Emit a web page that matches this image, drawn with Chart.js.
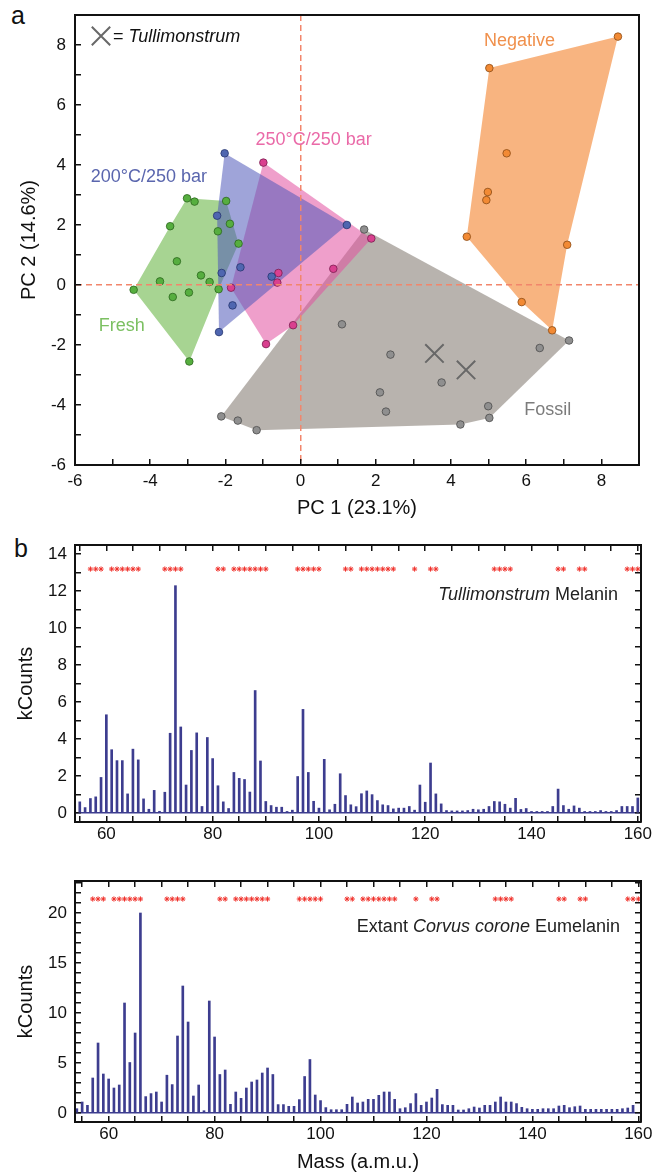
<!DOCTYPE html>
<html>
<head>
<meta charset="utf-8">
<script src="https://cdn.jsdelivr.net/npm/chart.js@4.4.1/dist/chart.umd.min.js"></script>
<style>
html,body{margin:0;padding:0;background:#fff;}
body{width:654px;height:1175px;position:relative;overflow:hidden;font-family:'Liberation Sans',Arial,sans-serif;}
.box{position:absolute;left:0;}
.letter{position:absolute;font-size:25px;line-height:25px;color:#111;}
</style>
</head>
<body>
<div class="letter" style="left:11px;top:3px">a</div>
<div class="letter" style="left:14px;top:536px">b</div>
<div class="box" style="top:0;width:654px;height:525px"><canvas id="ca" width="654" height="525"></canvas></div>
<div class="box" style="top:525px;width:654px;height:330px"><canvas id="cb1" width="654" height="330"></canvas></div>
<div class="box" style="top:860px;width:654px;height:315px"><canvas id="cb2" width="654" height="315"></canvas></div>
<script>
// ---------------- Panel a : PCA scores ----------------
const freshX = [-3.02,-2.82,-1.98,-3.47,-2.20,-1.88,-1.65,-3.29,-2.65,-3.74,-2.42,-4.44,-3.40,-2.97,-2.18,-2.96];
const freshY = [2.89,2.78,2.80,1.96,1.79,2.04,1.38,0.79,0.32,0.12,0.10,-0.16,-0.40,-0.25,-0.14,-2.55];
const freshHull = [0,2,6,14,15,11,3];

const t200X = [-2.02,1.23,-2.22,-2.10,-1.60,-0.77,-1.81,-2.17];
const t200Y = [4.39,2.00,2.31,0.40,0.59,0.28,-0.68,-1.57];
const t200Hull = [0,1,7,2];

const t250X = [-0.99,1.88,0.87,-0.59,-0.62,-1.85,-0.20,-0.92];
const t250Y = [4.08,1.55,0.54,0.40,0.08,-0.09,-1.34,-1.97];
const t250Hull = [0,1,6,7,5];

const fossilX = [1.69,1.10,2.39,3.75,2.11,2.27,4.99,5.02,4.25,6.36,7.14,-2.11,-1.67,-1.17];
const fossilY = [1.85,-1.31,-2.32,-3.25,-3.58,-4.22,-4.04,-4.43,-4.65,-2.10,-1.85,-4.38,-4.52,-4.84];
const fossilHull = [0,10,7,8,13,11];

const negX = [8.44,5.02,5.48,4.98,4.94,4.42,7.09,5.88,6.69];
const negY = [8.28,7.23,4.39,3.10,2.83,1.61,1.34,-0.57,-1.51];
const negHull = [0,1,5,7,8,6];

const tulliX = [3.56,4.40];
const tulliY = [-2.28,-2.83];

const pcTickLabels = [-6,-4,-2,0,2,4,6,8];

// ---------------- Panel b : ToF-SIMS spectra ----------------
const massB1 = [55,56,57,58,59,60,61,62,63,64,65,66,67,68,69,70,71,72,73,74,75,76,77,78,79,80,81,82,83,84,85,86,87,88,89,90,91,92,93,94,95,96,97,98,99,100,101,102,103,104,105,106,107,108,109,110,111,112,113,114,115,116,117,118,119,120,121,122,123,124,125,126,127,128,129,130,131,132,133,134,135,136,137,138,139,140,141,142,143,144,145,146,147,148,149,150,151,152,153,154,155,156,157,158,159,160];
const countsB1 = [0.61,0.30,0.79,0.88,1.93,5.32,3.43,2.84,2.84,1.04,3.46,2.88,0.77,0.21,1.23,0.10,1.13,4.32,12.3,4.66,1.52,3.39,4.34,0.36,4.09,2.95,1.48,0.61,0.25,2.20,1.88,1.82,1.14,6.63,2.82,0.63,0.41,0.32,0.32,0.09,0.16,1.98,5.61,2.20,0.64,0.27,2.91,0.18,0.48,2.13,0.95,0.45,0.35,1.05,1.20,1.00,0.68,0.45,0.41,0.23,0.27,0.27,0.36,0.16,1.52,0.59,2.71,1.04,0.50,0.14,0.12,0.12,0.12,0.14,0.21,0.18,0.21,0.36,0.63,0.61,0.48,0.27,0.80,0.20,0.25,0.09,0.09,0.09,0.09,0.36,1.30,0.41,0.21,0.39,0.27,0.09,0.09,0.09,0.14,0.09,0.09,0.14,0.36,0.36,0.36,0.82];

const massB2 = [54,55,56,57,58,59,60,61,62,63,64,65,66,67,68,69,70,71,72,73,74,75,76,77,78,79,80,81,82,83,84,85,86,87,88,89,90,91,92,93,94,95,96,97,98,99,100,101,102,103,104,105,106,107,108,109,110,111,112,113,114,115,116,117,118,119,120,121,122,123,124,125,126,127,128,129,130,131,132,133,134,135,136,137,138,139,140,141,142,143,144,145,146,147,148,149,150,151,152,153,154,155,156,157,158,159];
const countsB2 = [0.43,1.10,0.77,3.50,7.00,3.90,3.40,2.50,2.80,11.0,5.05,8.00,20.0,1.64,1.94,2.10,1.10,3.78,2.84,7.70,12.7,9.10,1.70,2.80,0.23,11.2,7.60,3.85,4.30,0.87,2.10,1.47,2.50,3.10,3.30,4.00,4.50,3.85,0.84,0.84,0.67,0.67,1.34,3.65,5.35,1.80,1.24,0.54,0.33,0.33,0.33,0.87,1.60,1.00,1.10,1.37,1.37,1.77,2.10,2.10,1.37,0.43,0.53,0.94,1.94,0.77,1.10,1.50,2.37,0.84,0.77,0.77,0.30,0.30,0.43,0.60,0.50,0.77,0.77,1.10,1.60,1.10,1.10,0.94,0.57,0.43,0.37,0.37,0.43,0.43,0.43,0.70,0.77,0.53,0.63,0.70,0.37,0.37,0.37,0.37,0.37,0.37,0.37,0.43,0.50,0.77];

const markedMasses = [57,58,59,61,62,63,64,65,66,71,72,73,74,81,82,84,85,86,87,88,89,90,96,97,98,99,100,105,106,108,109,110,111,112,113,114,118,121,122,133,134,135,136,145,146,149,150,158,159,160];
const markLevelB1 = 13.2;
const markLevelB2 = 21.4;

const massTickLabels = [60,80,100,120,140,160];
const kcTickLabelsB1 = [0,2,4,6,8,10,12,14];
const kcTickLabelsB2 = [0,5,10,15,20];

// ---------------- helpers ----------------
const FONT = "'Liberation Sans', Arial, Helvetica, sans-serif";
Chart.defaults.font.family = FONT;
Chart.defaults.color = '#111';
Chart.defaults.animation = false;

function toPts(xs, ys) { return xs.map((x, i) => ({x: x, y: ys[i]})); }
function toHull(xs, ys, idx) { return idx.map(i => ({x: xs[i], y: ys[i]})); }

function textPlugin(items, extra) {
  return {
    id: 'panelText',
    afterDraw(chart) {
      const ctx = chart.ctx;
      items.forEach(it => {
        let x = it.x, y = it.y;
        if (it.data) {
          x = chart.scales.x.getPixelForValue(it.x);
          y = chart.scales.y.getPixelForValue(it.y);
        }
        ctx.save();
        ctx.fillStyle = it.color;
        ctx.textBaseline = 'middle';
        ctx.textAlign = 'left';
        const fonts = it.runs.map(r => (r.italic ? 'italic ' : '') + it.size + 'px ' + FONT);
        const widths = it.runs.map((r, i) => { ctx.font = fonts[i]; return ctx.measureText(r.t).width; });
        const total = widths.reduce((a, b) => a + b, 0);
        let cx = it.align === 'right' ? x - total : (it.align === 'center' ? x - total / 2 : x);
        it.runs.forEach((r, i) => { ctx.font = fonts[i]; ctx.fillText(r.t, cx, y); cx += widths[i]; });
        ctx.restore();
      });
      if (extra) extra(chart);
    }
  };
}

function frameAxis(pos, min, max, size) {
  const horiz = pos === 'top' || pos === 'bottom';
  return {
    type: 'linear', position: pos, min: min, max: max, offset: false,
    afterFit: s => { if (horiz) { s.height = size; } else { s.width = size; } s.paddingLeft = 0; s.paddingRight = 0; s.paddingTop = 0; s.paddingBottom = 0; },
    border: {display: true, color: '#111', width: 2, z: 2},
    grid: {display: false},
    ticks: {display: false}
  };
}

function tickedAxis(o) {
  const horiz = o.pos === 'top' || o.pos === 'bottom';
  const ax = {
    type: 'linear', position: o.pos, min: o.min, max: o.max, offset: false,
    afterFit: s => { if (horiz) { s.height = o.size; } else { s.width = o.size; } s.paddingLeft = 0; s.paddingRight = 0; s.paddingTop = 0; s.paddingBottom = 0; },
    border: {display: true, color: '#111', width: 2, z: 2, dash: o.dash || []},
    grid: {
      display: true, offset: false, drawOnChartArea: !!o.lineAt0, drawTicks: true,
      tickLength: -6, tickColor: '#111', tickWidth: 1.5, lineWidth: 1.5,
      color: c => (o.lineAt0 && c.tick && c.tick.value === 0) ? o.lineAt0 : 'rgba(0,0,0,0)',
      z: o.gridZ || 0
    },
    ticks: {
      display: !!o.labels, stepSize: o.step, autoSkip: false, includeBounds: false,
      maxRotation: 0, minRotation: 0, padding: o.pad || 10,
      font: {size: 17}, color: '#111',
      callback: v => (o.labels && o.labels.includes(v)) ? String(v) : ''
    }
  };
  if (o.title) ax.title = {display: true, text: o.title, color: '#111', font: {size: 20}, padding: o.titlePad};
  return ax;
}

// ---------------- Chart a ----------------
const groupsA = [
  {xs: fossilX, ys: fossilY, hull: fossilHull, fill: 'rgba(140,132,125,0.62)', pt: '#8f8f8f', ptB: '#4a4a4a'},
  {xs: freshX, ys: freshY, hull: freshHull, fill: 'rgba(108,184,74,0.6)', pt: '#56ae3f', ptB: '#2b661d'},
  {xs: negX, ys: negY, hull: negHull, fill: 'rgba(245,140,60,0.65)', pt: '#f28a34', ptB: '#8a4a14'},
  {xs: t250X, ys: t250Y, hull: t250Hull, fill: 'rgba(225,80,160,0.55)', pt: '#d9408f', ptB: '#7a1d4f'},
  {xs: t200X, ys: t200Y, hull: t200Hull, fill: 'rgba(80,90,185,0.55)', pt: '#4f66b0', ptB: '#26356e'}
];
const dsA = [];
groupsA.forEach((g, i) => {
  dsA.push({
    type: 'line', data: toHull(g.xs, g.ys, g.hull), fill: 'shape',
    backgroundColor: g.fill, borderColor: 'rgba(0,0,0,0)', borderWidth: 0,
    pointRadius: 0, pointHoverRadius: 0, tension: 0, order: 20 - i
  });
  dsA.push({
    type: 'scatter', data: toPts(g.xs, g.ys), backgroundColor: g.pt, borderColor: g.ptB,
    borderWidth: 0.8, pointRadius: 3.8, pointHoverRadius: 3.8, order: 10 - i
  });
});
dsA.push({
  type: 'scatter', data: toPts(tulliX, tulliY), pointStyle: 'crossRot', pointRadius: 13, pointHoverRadius: 13,
  borderColor: '#686868', backgroundColor: '#686868', borderWidth: 2, order: 0
});

const labelsA = [
  {data: true, x: 5.82, y: 8.14, align: 'center', size: 18, color: '#f0904c', runs: [{t: 'Negative'}]},
  {data: true, x: -1.20, y: 4.84, align: 'left', size: 18, color: '#ea6aa8', runs: [{t: '250°C/250 bar'}]},
  {data: true, x: -5.58, y: 3.59, align: 'left', size: 18, color: '#5a66ae', runs: [{t: '200°C/250 bar'}]},
  {data: true, x: -5.37, y: -1.37, align: 'left', size: 18, color: '#7cc062', runs: [{t: 'Fresh'}]},
  {data: true, x: 6.57, y: -4.18, align: 'center', size: 18, color: '#7c7c7c', runs: [{t: 'Fossil'}]},
  {data: false, x: 113, y: 37, align: 'left', size: 18, color: '#111', runs: [{t: '= '}, {t: 'Tullimonstrum', italic: true}]}
];
function drawLegendCross(chart) {
  const ctx = chart.ctx;
  ctx.save();
  ctx.strokeStyle = '#686868';
  ctx.lineWidth = 2;
  Chart.helpers.drawPoint(ctx, {pointStyle: 'crossRot', radius: 13, borderWidth: 2}, 101, 36);
  ctx.restore();
}

new Chart(document.getElementById('ca'), {
  type: 'scatter',
  data: {datasets: dsA},
  options: {
    responsive: false, animation: false, events: [],
    layout: {padding: 0},
    plugins: {legend: {display: false}, tooltip: {enabled: false}},
    scales: {
      x: tickedAxis({pos: 'bottom', min: -6, max: 9, size: 60, step: 1, labels: pcTickLabels, pad: 12,
        lineAt0: '#f2866c', dash: [6, 4], gridZ: 1, title: 'PC 1 (23.1%)', titlePad: {top: 0, bottom: 5}}),
      y: tickedAxis({pos: 'left', min: -6, max: 9, size: 75, step: 1, labels: pcTickLabels, pad: 15,
        lineAt0: '#f2866c', dash: [6, 4], gridZ: 1, title: 'PC 2 (14.6%)', titlePad: {top: 17, bottom: 0}}),
      x2: frameAxis('top', -6, 9, 6),
      y2: frameAxis('right', -6, 9, 13)
    }
  },
  plugins: [textPlugin(labelsA, drawLegendCross)]
});

// ---------------- Charts b ----------------
function spectrumChart(id, masses, counts, markLevel, xr, yr, yLabels, sizes, textItems, xTitle) {
  const bars = masses.map((m, i) => ({x: m, y: counts[i]}));
  const marks = markedMasses.map(m => ({x: m, y: markLevel}));
  const xAx = tickedAxis({pos: 'bottom', min: xr[0], max: xr[1], size: sizes.bottom, step: 5, labels: massTickLabels, pad: 8,
    title: xTitle, titlePad: {top: 0, bottom: 1}});
  return new Chart(document.getElementById(id), {
    type: 'bar',
    data: {datasets: [
      {type: 'scatter', data: marks, pointStyle: 'star', pointRadius: 2.6, pointHoverRadius: 2.6,
       borderColor: '#f0302a', backgroundColor: '#f0302a', borderWidth: 1, order: 0},
      {type: 'bar', data: bars, backgroundColor: '#3d3d8f', barThickness: 2, borderWidth: 0, order: 1}
    ]},
    options: {
      responsive: false, animation: false, events: [],
      layout: {padding: 0},
      plugins: {legend: {display: false}, tooltip: {enabled: false}},
      scales: {
        x: xAx,
        y: tickedAxis({pos: 'left', min: yr[0], max: yr[1], size: 75, step: 1, labels: yLabels, pad: 14,
          lineAt0: '#3d3d8f', title: 'kCounts', titlePad: {top: 14, bottom: 0}}),
        x2: tickedAxis({pos: 'top', min: xr[0], max: xr[1], size: sizes.top, step: 5}),
        y2: tickedAxis({pos: 'right', min: yr[0], max: yr[1], size: 13, step: 1})
      }
    },
    plugins: [textPlugin(textItems)]
  });
}

spectrumChart('cb1', massB1, countsB1, markLevelB1, [54.1, 160.6], [-0.48, 14.5], kcTickLabelsB1,
  {top: 20, bottom: 33},
  [{data: false, x: 618, y: 70, align: 'right', size: 18, color: '#222', runs: [{t: 'Tullimonstrum', italic: true}, {t: ' Melanin'}]}],
  null);

spectrumChart('cb2', massB2, countsB2, markLevelB2, [53.65, 160.5], [-0.9, 23.2], kcTickLabelsB2,
  {top: 21, bottom: 53},
  [{data: false, x: 620, y: 67, align: 'right', size: 18, color: '#222', runs: [{t: 'Extant '}, {t: 'Corvus corone', italic: true}, {t: ' Eumelanin'}]}],
  'Mass (a.m.u.)');
</script>
</body>
</html>
